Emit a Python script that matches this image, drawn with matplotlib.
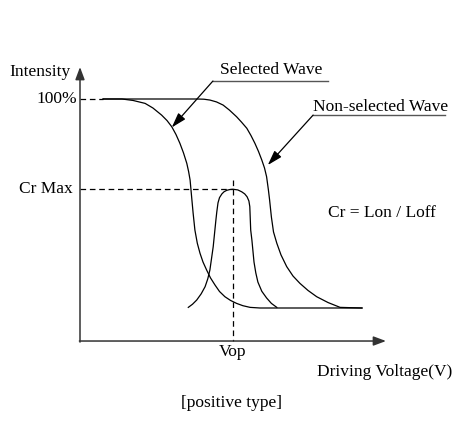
import matplotlib.pyplot as plt

plt.rcParams['font.family'] = ['Liberation Serif', 'DejaVu Serif']

# Curves: driving voltage (arb. units) vs intensity (%)
selected_v = [7.7, 14.0, 17.7, 21.7, 24.3, 27.2, 29.0, 30.6, 32.0, 33.3, 34.5, 35.6,
              36.2, 36.7, 37.2, 37.7, 38.3, 39.1, 40.0, 41.0, 42.2, 43.5, 45.0, 46.5,
              48.3, 50.2, 52.2, 54.3, 56.7, 60.0, 94.0]
selected_i = [100, 100, 99.3, 97.9, 95.7, 92.3, 89.7, 86.7, 83.0, 78.8, 74.2, 69.2,
              65.3, 61.2, 53.3, 45.5, 37.3, 31.0, 26.2, 22.0, 18.2, 14.4, 11.0, 7.9,
              5.4, 3.6, 2.2, 1.1, 0.3, 0, 0]

nonsel_v = [7.7, 39.0, 41.3, 43.3, 45.5, 47.7, 49.8, 52.2, 53.8, 55.6, 57.0, 58.3,
            59.5, 60.6, 61.5, 62.2, 62.8, 63.2, 63.8, 64.5, 65.6, 67.0, 68.9, 71.0,
            73.3, 76.0, 78.9, 82.7, 86.7, 94.0]
nonsel_i = [100, 100, 99.9, 99.5, 98.6, 97.1, 94.7, 91.5, 89.0, 86.0, 82.5, 78.8,
            74.9, 70.8, 67.0, 62.8, 56.5, 51.7, 43.5, 36.4, 31.0, 25.4, 19.8, 15.3,
            11.8, 8.4, 5.4, 2.6, 0.3, 0]

cr_v = [36.1, 37.5, 38.9, 40.4, 41.7, 42.6, 43.3, 44.4, 45.3, 45.6, 46.0, 46.5,
        47.3, 48.0, 48.9, 50.0, 51.1, 52.6, 53.9, 54.9, 55.7, 56.3, 56.6, 56.9,
        57.3, 58.0, 58.6, 59.3, 60.6, 62.2, 63.8, 65.6]
cr_i = [0.3, 1.8, 3.8, 6.8, 10.2, 14.0, 18.2, 29.3, 42.1, 46.0, 50.3, 52.8,
        54.6, 55.6, 56.3, 56.7, 56.8, 56.5, 55.6, 54.6, 53.2, 51.2, 48.5, 37.3,
        32.5, 22.0, 16.8, 12.4, 8.0, 4.8, 2.2, 0.3]

cr_max = 57
vop = 51

fig = plt.figure(figsize=(4.55, 4.21), dpi=100)
ax = fig.add_axes([0, 0, 1, 1])
ax.set_xlim(-80 / 3, 375 / 3)
ax.set_ylim(-113 / 2.09, 308 / 2.09)
ax.axis('off')

# axes with arrow heads
axis_arrow = dict(arrowstyle='-|>,head_length=0.75,head_width=0.28', lw=1.1,
                  color='#333333', shrinkA=0, shrinkB=0, mutation_scale=10)
ax.annotate('', xy=(0, 115.3), xytext=(0, -16.3), arrowprops=axis_arrow)
ax.annotate('', xy=(102, -15.8), xytext=(-0.2, -15.8), arrowprops=axis_arrow)

# curves
ax.plot(selected_v, selected_i, color='black', lw=0.9)
ax.plot(nonsel_v, nonsel_i, color='black', lw=0.9)
ax.plot(cr_v, cr_i, color='black', lw=0.9)

# dashed guides
dash = dict(color='black', lw=0.9, linestyle=(0, (4.5, 3)))
ax.plot([0, selected_v[0]], [100, 100], **dash)
ax.plot([0, vop], [cr_max, cr_max], **dash)
ax.plot([vop, vop], [61.2, -15.8], **dash)

# labels on axes
fs = 12.5
ax.text(-3.3, 112.9, 'Intensity', fontsize=fs, ha='right', va='center')
ax.text(-1.0, 100, '100%', fontsize=fs, ha='right', va='center')
ax.text(-2.3, cr_max, 'Cr Max', fontsize=fs, ha='right', va='center')
ax.text(vop, -21, 'Vop', fontsize=fs, ha='center', va='center')
ax.text(101.7, -30.6, 'Driving Voltage(V)', fontsize=fs, ha='center', va='center')
ax.text(50.5, -45.5, '[positive type]', fontsize=fs, ha='center', va='center')
ax.text(100.5, 45.5, 'Cr = Lon / Loff', fontsize=fs, ha='center', va='center')

# leaders
lead = dict(arrowstyle='-|>,head_length=0.9,head_width=0.28', lw=0.9,
            color='black', shrinkA=0, shrinkB=0, mutation_scale=10)
ax.text(63.7, 113.9, 'Selected Wave', fontsize=fs, ha='center', va='center')
ax.plot([44.3, 82.7], [108.6, 108.6], color='#555555', lw=1.0)
ax.annotate('', xy=(30.6, 86.4), xytext=(44.3, 108.6), arrowprops=lead)

ax.text(100.3, 96.2, 'Non-selected Wave', fontsize=fs, ha='center', va='center')
ax.plot([77.7, 121.7], [92.3, 92.3], color='#555555', lw=1.0)
ax.annotate('', xy=(62.6, 68.4), xytext=(77.7, 92.3), arrowprops=lead)

fig.savefig('out.png', dpi=100)
